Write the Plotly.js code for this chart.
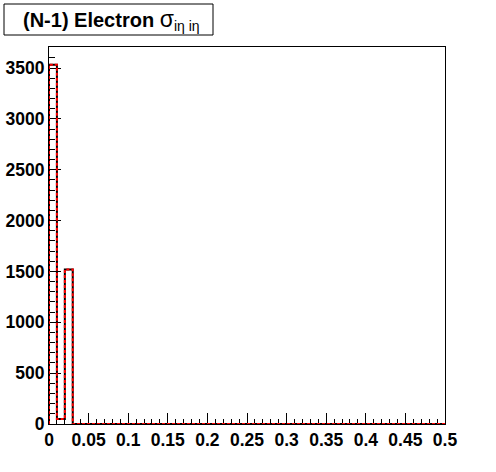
<!DOCTYPE html>
<html>
<head>
<meta charset="utf-8">
<script src="https://cdn.plot.ly/plotly-3.0.1.min.js"></script>
<style>html,body{margin:0;padding:0;background:#fff;}#chart{width:496px;height:472px;}</style>
</head>
<body>
<div id="chart"></div>
<script>
// Histogram: 50 bins of width 0.01 from 0 to 0.5
var binEdges = [0.00,0.01,0.02,0.03,0.04,0.05,0.06,0.07,0.08,0.09,
                0.10,0.11,0.12,0.13,0.14,0.15,0.16,0.17,0.18,0.19,
                0.20,0.21,0.22,0.23,0.24,0.25,0.26,0.27,0.28,0.29,
                0.30,0.31,0.32,0.33,0.34,0.35,0.36,0.37,0.38,0.39,
                0.40,0.41,0.42,0.43,0.44,0.45,0.46,0.47,0.48,0.49,0.50];
var counts = [3532, 50, 1518, 0, 0, 0, 0, 0, 0, 0,
              0, 0, 0, 0, 0, 0, 0, 0, 0, 0,
              0, 0, 0, 0, 0, 0, 0, 0, 0, 0,
              0, 0, 0, 0, 0, 0, 0, 0, 0, 0,
              0, 0, 0, 0, 0, 0, 0, 0, 0, 0];
var xTickVals = [0,0.05,0.1,0.15,0.2,0.25,0.3,0.35,0.4,0.45,0.5];
var xTickText = ["0","0.05","0.1","0.15","0.2","0.25","0.3","0.35","0.4","0.45","0.5"];
var yTickVals = [0,500,1000,1500,2000,2500,3000,3500];
var yTickText = ["0","500","1000","1500","2000","2500","3000","3500"];

// step outline: start at baseline, end at baseline
var sx = [binEdges[0]].concat(binEdges.slice(0, counts.length)).concat([binEdges[binEdges.length-1]]);
var sy = [0].concat(counts).concat([0]);

var font = {family: "Liberation Sans, Arial, sans-serif", size: 17.5, color: "#000", weight: "bold"};

var traces = [
  {x: sx, y: sy, type: "scatter", mode: "lines", line: {shape: "hv", color: "#000", width: 2}, hoverinfo: "skip", cliponaxis: false},
  {x: sx, y: sy, type: "scatter", mode: "lines", line: {shape: "hv", color: "#ff0000", width: 2, dash: "3px,2px"}, hoverinfo: "skip", cliponaxis: false}
];

var layout = {
  width: 496, height: 472,
  margin: {l: 49, r: 51, t: 47, b: 48, pad: 0},
  paper_bgcolor: "#fff", plot_bgcolor: "#fff",
  showlegend: false,
  xaxis: {
    range: [0, 0.5], showgrid: false, zeroline: false,
    showline: true, mirror: true, linecolor: "#000", linewidth: 1,
    ticks: "inside", ticklen: 11, tickwidth: 1, tickcolor: "#000",
    tickvals: xTickVals, ticktext: xTickText, tickfont: font,
    minor: {dtick: 0.01, ticks: "inside", ticklen: 5, tickwidth: 1, tickcolor: "#000", showgrid: false},
    layer: "below traces", fixedrange: true
  },
  yaxis: {
    range: [0, 3707], showgrid: false, zeroline: false,
    showline: true, mirror: true, linecolor: "#000", linewidth: 1,
    ticks: "inside", ticklen: 12, tickwidth: 1, tickcolor: "#000",
    tickvals: yTickVals, ticktext: yTickText, tickfont: font,
    minor: {dtick: 100, ticks: "inside", ticklen: 6, tickwidth: 1, tickcolor: "#000", showgrid: false},
    layer: "below traces", fixedrange: true
  },
  shapes: [
    {type: "rect", xref: "paper", yref: "paper",
     x0: (4-49)/396, x1: (213-49)/396, y0: (424-35)/377, y1: (424-4)/377,
     line: {color: "#000", width: 1}, fillcolor: "#fff", layer: "above"}
  ],
  annotations: [
    {xref: "paper", yref: "paper", x: (111-49)/396, y: (424-20)/377,
     xanchor: "center", yanchor: "middle", showarrow: false,
     text: "<b>(N-1) Electron</b> <span style=\"font-size:23px\">σ</span><sub>iη iη</sub>",
     font: {family: "Liberation Sans, Arial, sans-serif", size: 20, color: "#000"}}
  ]
};

Plotly.newPlot("chart", traces, layout, {staticPlot: true, displayModeBar: false});
</script>
</body>
</html>
